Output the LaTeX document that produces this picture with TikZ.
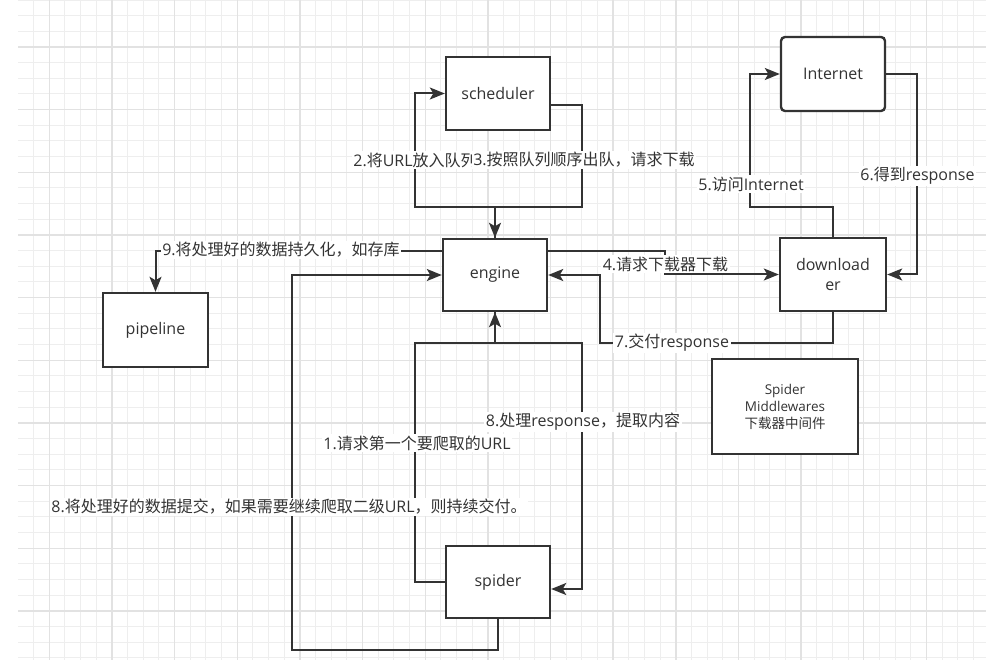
\documentclass[tikz,border=0pt]{standalone}
\usepackage{fontspec}
\setmainfont{Noto Sans CJK SC}
\newfontfamily\lat{Open Sans}
\usetikzlibrary{arrows.meta}
\definecolor{linec}{HTML}{333333}
\definecolor{textc}{HTML}{333333}
\definecolor{gminor}{HTML}{EEEEEE}
\definecolor{gmajor}{HTML}{E2E2E2}
\tikzset{
  box/.style={draw=linec, line width=2.4pt, fill=white, minimum width=104pt, minimum height=73pt,
    inner sep=0pt, align=center, text=textc, font=\lat\fontsize{16}{20}\selectfont},
  conn/.style={draw=linec, line width=2pt, -{Stealth[length=15pt,width=12pt,inset=3.5pt]}},
  lbl/.style={fill=white, inner sep=1.5pt, text=textc, font=\fontsize{16}{19}\selectfont},
  gridminor/.style={draw=gminor, line width=1pt},
  gridmajor/.style={draw=gmajor, line width=1.4pt},
}
\begin{document}
\begin{tikzpicture}[x=1pt,y=-1pt]
\useasboundingbox (0,0) rectangle (986,660);
% grid background
\begin{scope}
\clip (18,0) rectangle (986,660);
\foreach \i in {-2,...,62} \draw[gridminor] ({49.3+15.6625*\i},0) -- ({49.3+15.6625*\i},660);
\foreach \i in {-3,...,42} \draw[gridminor] (18,{47+15.6625*\i}) -- (986,{47+15.6625*\i});
\foreach \i in {-1,...,15} \draw[gridmajor] ({49.3+62.65*\i},0) -- ({49.3+62.65*\i},660);
\foreach \i in {-1,...,10} \draw[gridmajor] (18,{47+62.65*\i}) -- (986,{47+62.65*\i});
\end{scope}

% nodes
\node[box] (scheduler) at (498,93.5) {scheduler};
\node[box, minimum height=72pt] (engine) at (495,275) {engine};
\node[box, minimum width=106pt] (downloader) at (833,274.5) {download\\er};
\node[box, rounded corners=4pt, minimum height=74pt] (internet) at (833,74) {Internet};
\node[box, minimum width=105pt, minimum height=74pt] (pipeline) at (155.5,330) {pipeline};
\node[box, minimum height=72pt] (spider) at (498,582) {spider};
\node[box, minimum width=146pt, minimum height=95pt, font=\lat\fontsize{13.5}{17}\selectfont] (mw) at (785,406.5)
  {Spider\\Middlewares\\{\rmfamily 下载器中间件}};

% connectors
\draw[conn] (engine.north) |- (415,207) |- (scheduler.west);
\draw[conn] ([yshift=-11.5pt]scheduler.east) -| (582,207) -| (engine.north);
\draw[conn] ([yshift=24pt]engine.west) -| (pipeline.north);
\draw[conn] ([yshift=24pt]engine.east) -| (665,274.5) -- (downloader.west);
\draw[conn] (downloader.south) |- (600,343) |- (engine.east);
\draw[conn] (downloader.north) |- (750,207) |- (internet.west);
\draw[conn] (internet.east) -| (917,274.5) -- (downloader.east);
\draw[conn] (spider.west) -| (415,343) -| (engine.south);
\draw[conn] (engine.south) |- (582,343) |- ([yshift=-7pt]spider.east);
\draw[conn] (spider.south) |- (292,650) |- (engine.west);

% labels
\node[lbl] (l2) at (415,160) {{\lat 2.}将{\lat URL}放入队列};
\node[lbl] (l3) at (584,160) {{\lat 3.}按照队列顺序出队，请求下载};
\node[lbl] (l9) at (281,250) {{\lat 9.}将处理好的数据持久化，如存库};
\node[lbl] (l4) at (665.5,264) {{\lat 4.}请求下载器下载};
\node[lbl] (l7) at (672,343) {{\lat 7.}交付{\lat response}};
\node[lbl] (l5) at (751,184) {{\lat 5.}访问{\lat Internet}};
\node[lbl] (l6) at (917.5,176) {{\lat 6.}得到{\lat response}};
\node[lbl] (l8a) at (583,422) {{\lat 8.}处理{\lat response}，提取内容};
\node[lbl] (l1) at (417,443) {{\lat 1.}请求第一个要爬取的{\lat URL}};
\node[lbl] (l8b) at (289,507) {{\lat 8.}将处理好的数据提交，如果需要继续爬取二级{\lat URL}，则持续交付。};
\end{tikzpicture}
\end{document}
